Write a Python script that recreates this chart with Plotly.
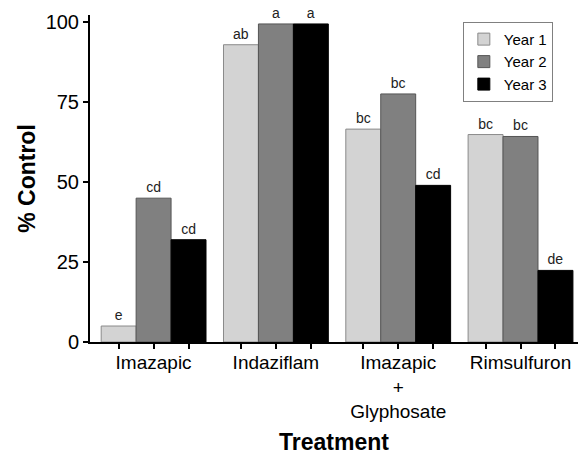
import plotly.graph_objects as go

categories = ["Imazapic", "Indaziflam", "Imazapic<br>+<br>Glyphosate", "Rimsulfuron"]
years = ["Year 1", "Year 2", "Year 3"]
year1 = [5, 93, 66.6, 64.9]
year2 = [45, 99.5, 77.6, 64.3]
year3 = [32, 99.5, 49, 22.4]
letters1 = ["e", "ab", "bc", "bc"]
letters2 = ["cd", "a", "bc", "bc"]
letters3 = ["cd", "a", "cd", "de"]
y_ticks = [0, 25, 50, 75, 100]

series = [year1, year2, year3]
letters = [letters1, letters2, letters3]
fills = ["#d3d3d3", "#808080", "#000000"]
lines = ["#8a8a8a", "#555555", "#000000"]

bw = 0.2857
offsets = [-bw, 0, bw]
xpos = list(range(len(categories)))

fig = go.Figure()
for i in range(3):
    fig.add_trace(go.Bar(
        x=[p + offsets[i] for p in xpos], y=series[i], name=years[i],
        width=bw, marker=dict(color=fills[i], line=dict(color=lines[i], width=1)),
        text=letters[i], textposition="outside", cliponaxis=False,
        textfont=dict(size=14, color="#222222", family="Liberation Sans"),
    ))

bar_centers = sorted(p + o for p in xpos for o in offsets)

fig.update_layout(
    width=588, height=455,
    margin=dict(l=90, r=10, t=15, b=112.5),
    paper_bgcolor="white", plot_bgcolor="white",
    font=dict(family="Liberation Sans", color="black"),
    barmode="overlay",
    showlegend=True,
    legend=dict(x=0.764, y=0.979, xanchor="left", yanchor="top",
                bordercolor="#808080", borderwidth=1,
                font=dict(size=15, family="Liberation Sans"),
                tracegroupgap=0, itemwidth=30),
    xaxis=dict(range=[-0.52, 3.47], tickvals=bar_centers, ticktext=[""] * len(bar_centers),
               ticks="outside", ticklen=5, tickwidth=2, tickcolor="black",
               showline=True, linecolor="black", linewidth=2,
               showgrid=False, zeroline=False, fixedrange=True, automargin=False),
    xaxis2=dict(range=[-0.52, 3.47], overlaying="x", side="bottom",
                tickvals=xpos, ticktext=categories, ticks="", ticklabelstandoff=7,
                showline=False, automargin=False,
                showgrid=False, zeroline=False, tickfont=dict(size=19),
                title=dict(text="<b>Treatment</b>", font=dict(size=23), standoff=16)),
    yaxis=dict(range=[0, 102.3], tickvals=y_ticks, ticks="outside", ticklen=5,
               tickwidth=2, tickcolor="black", showline=True, linecolor="black",
               linewidth=2, showgrid=False, zeroline=False, tickfont=dict(size=20),
               automargin=False,
               title=dict(text="<b>% Control</b>", font=dict(size=23), standoff=4)),
)
# invisible trace to activate xaxis2 (category labels)
fig.add_trace(go.Scatter(x=xpos, y=[0] * 4, xaxis="x2", mode="markers",
                         marker=dict(opacity=0), showlegend=False, hoverinfo="skip"))

fig.write_html("out.html", config={"displayModeBar": False},
               post_script="document.body.style.margin='0';document.body.style.overflow='hidden';")
